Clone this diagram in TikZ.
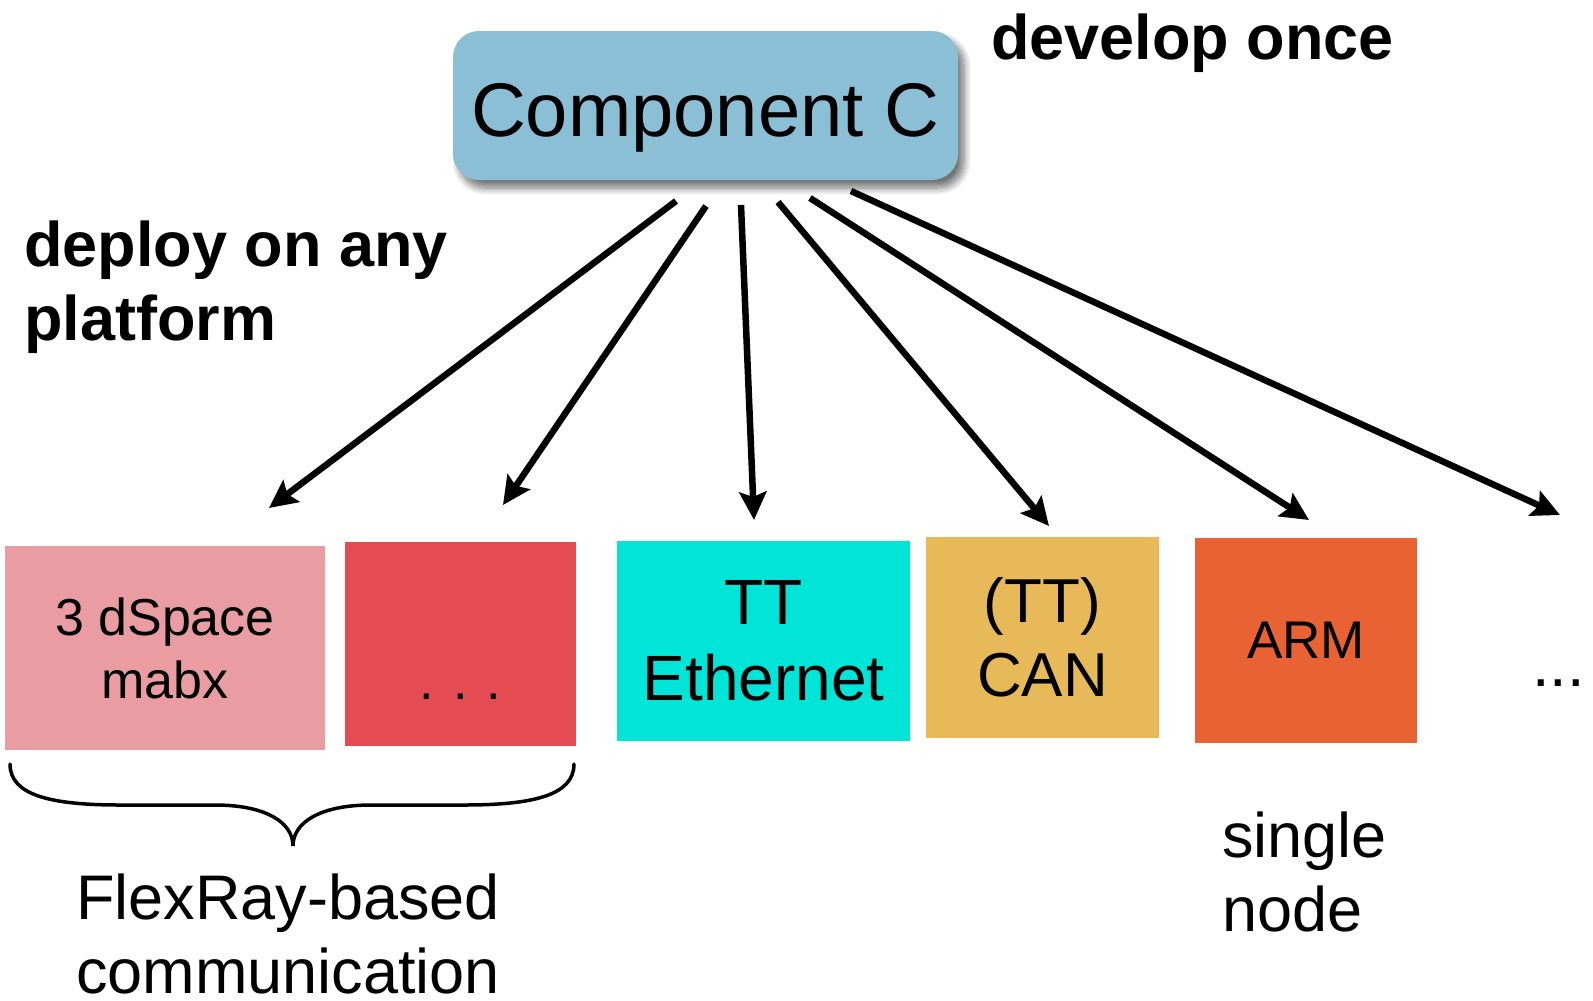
\documentclass[tikz,border=0pt]{standalone}
\usepackage{fontspec}
\setmainfont{Liberation Sans}
\usetikzlibrary{arrows.meta,shadows.blur}
\definecolor{compblue}{HTML}{8BBFD6}
\definecolor{pinkbox}{HTML}{E99CA2}
\definecolor{redbox}{HTML}{E54B53}
\definecolor{cyanbox}{HTML}{00E5D8}
\definecolor{yellowbox}{HTML}{E8B959}
\definecolor{orangebox}{HTML}{E96234}
\begin{document}
\begin{tikzpicture}[x=1pt,y=-1pt,
  comp/.style={fill=compblue, rounded corners=26pt, inner sep=0pt,
    font=\fontsize{76}{80}\selectfont, text height=62pt, text depth=0pt,
    blur shadow={shadow xshift=6pt, shadow yshift=-8pt, shadow blur steps=10, shadow blur radius=7pt, shadow opacity=55}},
  plat/.style={inner sep=0pt, align=center},
  arr/.style={line width=6.5pt, -{Stealth[length=28pt, width=27pt, inset=5pt]}},
  big/.style={inner sep=0pt, font=\fontsize{63}{74}\selectfont},
  bigb/.style={inner sep=0pt, font=\bfseries\fontsize{63}{74}\selectfont},
]
\useasboundingbox (0,0) rectangle (1593,1001);

% component
\node[comp, minimum width=505pt, minimum height=149pt] (comp) at (705.5,105.5) {Component C};

% platform boxes
\node[plat, fill=pinkbox, minimum width=320pt, minimum height=204pt, font=\fontsize{52}{63}\selectfont] (p1) at (165,648) {3 dSpace\\mabx};
\node[plat, fill=redbox, minimum width=231pt, minimum height=204pt] (p2) at (460.5,644) {};
\node[inner sep=0pt, anchor=base, font=\fontsize{52}{63}\selectfont] (p2dots) at (460.5,699) {. . .};
\node[plat, fill=cyanbox, minimum width=293pt, minimum height=200pt, font=\fontsize{64}{76}\selectfont] (p3) at (763.5,641) {TT\\Ethernet};
\node[plat, fill=yellowbox, minimum width=233pt, minimum height=201pt, font=\fontsize{62}{74}\selectfont] (p4) at (1042.5,637.5) {(TT)\\CAN};
\node[plat, fill=orangebox, minimum width=222pt, minimum height=205pt, font=\fontsize{53}{63}\selectfont] (p5) at (1306,640.5) {ARM};
\node[big, anchor=base west] (more) at (1532,686) {...};

% labels (base = baseline of last line)
\node[bigb, anchor=base west] (dev) at (991,59) {develop once};
\node[bigb, anchor=base west, align=left] (dep) at (24,340) {deploy on any\\platform};
\node[big, anchor=base west, align=left] (flex) at (76,993) {FlexRay-based\\communication};
\node[big, anchor=base west, align=left] (single) at (1222,931) {single\\node};

% arrow ends
\coordinate (s1) at (676,201); \coordinate (e1) at (269,508);
\coordinate (s2) at (706,206); \coordinate (e2) at (503,505);
\coordinate (s3) at (741,205); \coordinate (e3) at (754,520);
\coordinate (s4) at (778,202); \coordinate (e4) at (1049,526);
\coordinate (s5) at (810,198); \coordinate (e5) at (1309,520);
\coordinate (s6) at (851,191); \coordinate (e6) at (1560,515);
\foreach \i in {1,...,6} \draw[arr] (s\i) -- (e\i);

% brace
\draw[line width=3.5pt, line cap=round]
  (10,764) .. controls (10,795) and (50,805) .. (120,805) -- (215,805)
  .. controls (265,805) and (293,822) .. (293,846)
  .. controls (293,822) and (321,805) .. (371,805) -- (464,805)
  .. controls (534,805) and (574,795) .. (574,764);
\end{tikzpicture}
\end{document}
